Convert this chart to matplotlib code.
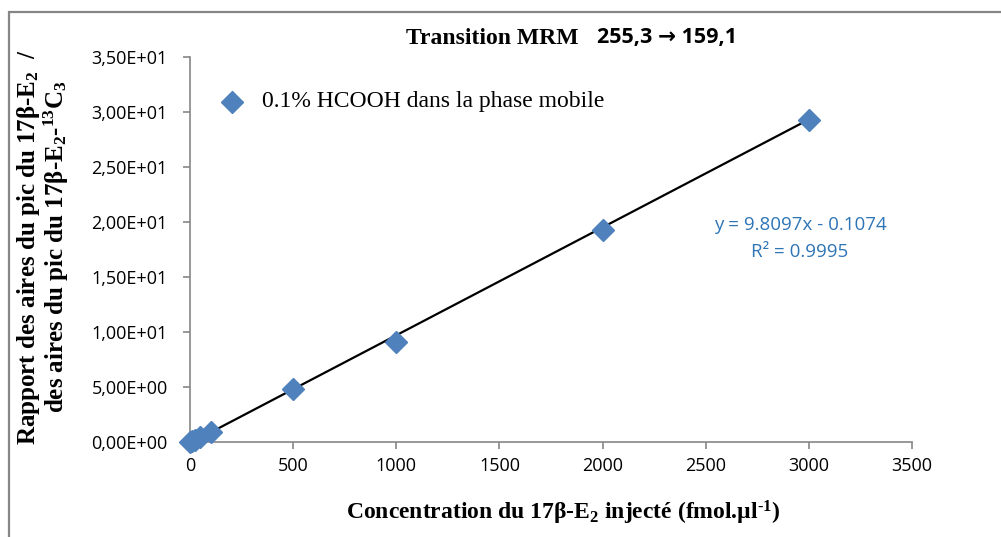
import matplotlib
matplotlib.use("Agg")
import matplotlib.pyplot as plt
from matplotlib.lines import Line2D
import numpy as np

# Calibration data: injected concentration (fmol/µl) vs area ratio
concentration = [0, 10, 25, 50, 100, 500, 1000, 2000, 3000]
area_ratio = [0.02, 0.10, 0.22, 0.45, 0.92, 4.82, 9.08, 19.27, 29.30]

# Linear trend line (x expressed in pmol/µl)
slope = 9.8097
intercept = -0.1074
r_squared = 0.9995

x_ticks = [0, 500, 1000, 1500, 2000, 2500, 3000, 3500]
y_ticks = [0, 5, 10, 15, 20, 25, 30, 35]
y_tick_labels = ["0,00E+00", "5,00E+00", "1,00E+01", "1,50E+01",
                 "2,00E+01", "2,50E+01", "3,00E+01", "3,50E+01"]

series_label = "0.1% HCOOH dans la phase mobile"

plt.rcParams["mathtext.fontset"] = "custom"
plt.rcParams["mathtext.rm"] = "Liberation Serif:bold"
plt.rcParams["mathtext.bf"] = "Liberation Serif:bold"
plt.rcParams["mathtext.it"] = "Liberation Serif:bold"

W, H = 1001, 537
fig = plt.figure(figsize=(W / 100, H / 100), dpi=100)
fig.patch.set_facecolor("white")

grey = "#868686"
blue = "#4F81BD"

# outer chart frame
frame = plt.Rectangle((9 / W, -0.05), 1.2, 1 - 12 / H + 0.05,
                      transform=fig.transFigure, fill=False,
                      edgecolor=grey, linewidth=1.6, zorder=0)
fig.patches.append(frame)

ax = fig.add_axes([190 / W, 1 - 442 / H, (912 - 190) / W, (442 - 57) / H])
ax.set_xlim(0, 3500)
ax.set_ylim(0, 35)

for side in ("top", "right"):
    ax.spines[side].set_visible(False)
for side in ("left", "bottom"):
    ax.spines[side].set_color(grey)
    ax.spines[side].set_linewidth(1.2)

ax.set_xticks(x_ticks)
ax.set_xticklabels([str(v) for v in x_ticks])
ax.set_yticks(y_ticks)
ax.set_yticklabels(y_tick_labels)
ax.tick_params(axis="both", direction="out", length=5, width=1.2,
               color=grey, labelsize=13)
ax.tick_params(axis="y", pad=11)
ax.tick_params(axis="x", pad=6)
for lab in ax.get_xticklabels() + ax.get_yticklabels():
    lab.set_family("Open Sans")
    lab.set_color("#000000")

# trend line
x_line = np.array([0, 3000], dtype=float)
y_line = slope * x_line / 1000 + intercept
ax.plot(x_line, y_line, color="black", linewidth=1.6, zorder=3,
        clip_on=True)

# data points
ax.plot(concentration, area_ratio, linestyle="none", marker="D",
        markersize=11.5, color=blue, markeredgecolor=blue, zorder=4,
        clip_on=False)

# legend entry
fig.add_artist(Line2D([232 / W], [1 - 102 / H], transform=fig.transFigure,
                      linestyle="none", marker="D", markersize=11.5,
                      color=blue))
fig.text(262 / W, 1 - 102 / H, series_label, ha="left", va="center",
         fontsize=17, family="Liberation Serif")

# regression equation
eq_color = "#2E75B6"
fig.text(800 / W, 1 - 225 / H, f"y = {slope}x - {abs(intercept)}",
         ha="center", va="center", color=eq_color, fontsize=13.5,
         family="Open Sans")
fig.text(800 / W, 1 - 252 / H, f"R² = {r_squared}",
         ha="center", va="center", color=eq_color, fontsize=13.5,
         family="Open Sans")

# title
fig.text(579 / W, 1 - 38 / H, "Transition MRM",
         ha="right", va="center", fontsize=17, fontweight="bold",
         family="Liberation Serif")
fig.text(597 / W, 1 - 38 / H, "255,3 → 159,1",
         ha="left", va="center", fontsize=15.5, fontweight="bold",
         family=["Open Sans", "DejaVu Sans"])

# axis titles
fig.text(563 / W, 1 - 513 / H,
         r"Concentration du 17β-E$_{2}$ injecté (fmol.µl$^{\text{-1}}$)",
         ha="center", va="center", fontsize=17, fontweight="bold",
         family="Liberation Serif")
fig.text(43 / W, 1 - 247 / H,
         "Rapport des aires du pic du 17β-E$_{2}$  /\n"
         "des aires du pic du 17β-E$_{2}$-$^{13}$C$_{3}$",
         ha="center", va="center", rotation=90, fontsize=18,
         linespacing=0.95, multialignment="center",
         fontweight="bold", family="Liberation Serif")

fig.savefig("out.png", dpi=100, facecolor="white")
